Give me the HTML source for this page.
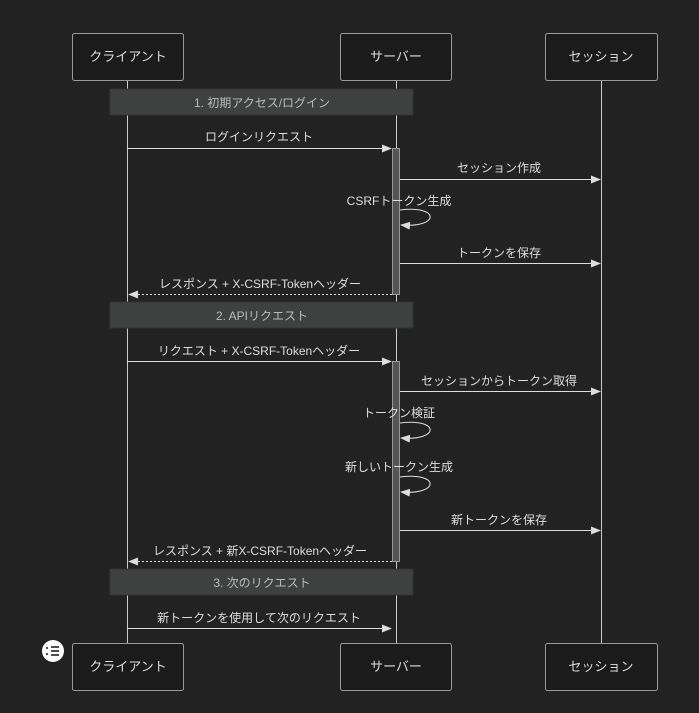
<!DOCTYPE html>
<html><head><meta charset="utf-8"><style>
html,body{margin:0;padding:0;background:#222;}
svg{display:block;font-family:"Liberation Sans","Noto Sans CJK JP",sans-serif;}
</style></head><body>
<svg width="699" height="713" viewBox="0 0 699 713" xmlns="http://www.w3.org/2000/svg">
<defs>
<marker id="a" markerWidth="10" markerHeight="8" refX="9" refY="4" orient="auto" markerUnits="userSpaceOnUse"><path d="M0,0 L10,4 L0,8 z" fill="#ddd"/></marker>
</defs>
<rect width="699" height="713" fill="#222"/>
<g stroke="#ccc" stroke-width="1">
<line x1="127.5" y1="80" x2="127.5" y2="643"/>
<line x1="396.5" y1="80" x2="396.5" y2="643"/>
<line x1="601.5" y1="80" x2="601.5" y2="643"/>
</g>
<g fill="#1b1b1b" stroke="#999" stroke-width="1">
<rect x="72.5" y="33.5" width="111" height="47" rx="2"/>
<rect x="340.5" y="33.5" width="111" height="47" rx="2"/>
<rect x="545.5" y="33.5" width="112" height="47" rx="2"/>
<rect x="72.5" y="643.5" width="111" height="47" rx="2"/>
<rect x="340.5" y="643.5" width="111" height="47" rx="2"/>
<rect x="545.5" y="643.5" width="112" height="47" rx="2"/>
</g>
<g fill="#ddd" font-size="13" text-anchor="middle">
<text x="128" y="61">クライアント</text>
<text x="396" y="61">サーバー</text>
<text x="601" y="61">セッション</text>
<text x="128" y="671">クライアント</text>
<text x="396" y="671">サーバー</text>
<text x="601" y="671">セッション</text>
</g>
<g fill="#3f4140" stroke="#333">
<rect x="110" y="89" width="303" height="26"/>
<rect x="110" y="302" width="303" height="26"/>
<rect x="110" y="569" width="303" height="26"/>
</g>
<g fill="#bbb" font-size="12" text-anchor="middle">
<text x="262" y="107">1. 初期アクセス/ログイン</text>
<text x="262" y="320">2. APIリクエスト</text>
<text x="262" y="587">3. 次のリクエスト</text>
</g>
<g fill="#555" stroke="#999">
<rect x="392.5" y="148.5" width="7" height="146"/>
<rect x="392.5" y="361.5" width="7" height="200"/>
</g>
<g stroke="#ddd" stroke-width="1" fill="none">
<line x1="127" y1="148.5" x2="391" y2="148.5" marker-end="url(#a)"/>
<line x1="400" y1="179.5" x2="600" y2="179.5" marker-end="url(#a)"/>
<path d="M400,210 C440,205 440,228 401,225" marker-end="url(#a)"/>
<line x1="400" y1="263.5" x2="600" y2="263.5" marker-end="url(#a)"/>
<line x1="392" y1="294.5" x2="129" y2="294.5" stroke-dasharray="2,2" marker-end="url(#a)"/>
<line x1="127" y1="361.5" x2="391" y2="361.5" marker-end="url(#a)"/>
<line x1="400" y1="391.5" x2="600" y2="391.5" marker-end="url(#a)"/>
<path d="M400,423 C440,418 440,441 401,438" marker-end="url(#a)"/>
<path d="M400,477 C440,472 440,495 401,492" marker-end="url(#a)"/>
<line x1="400" y1="530.5" x2="600" y2="530.5" marker-end="url(#a)"/>
<line x1="392" y1="561.5" x2="129" y2="561.5" stroke-dasharray="2,2" marker-end="url(#a)"/>
<line x1="127" y1="628.5" x2="391" y2="628.5" marker-end="url(#a)"/>
</g>
<g fill="#ddd" font-size="12" text-anchor="middle">
<text x="259" y="141">ログインリクエスト</text>
<text x="499" y="172">セッション作成</text>
<text x="399" y="205">CSRFトークン生成</text>
<text x="499" y="257">トークンを保存</text>
<text x="260" y="288">レスポンス + X-CSRF-Tokenヘッダー</text>
<text x="259" y="355">リクエスト + X-CSRF-Tokenヘッダー</text>
<text x="499" y="385">セッションからトークン取得</text>
<text x="399" y="417">トークン検証</text>
<text x="399" y="471">新しいトークン生成</text>
<text x="499" y="524">新トークンを保存</text>
<text x="260" y="555">レスポンス + 新X-CSRF-Tokenヘッダー</text>
<text x="259" y="622">新トークンを使用して次のリクエスト</text>
</g>
<circle cx="53" cy="651" r="11" fill="#fff"/>
<g stroke="#222" stroke-width="1.6">
<line x1="51" y1="647" x2="59" y2="647"/><line x1="51" y1="651" x2="59" y2="651"/><line x1="51" y1="655" x2="59" y2="655"/>
<line x1="46" y1="648" x2="48" y2="648"/><line x1="46" y1="654" x2="48" y2="654"/>
</g>
</svg>
</body></html>
